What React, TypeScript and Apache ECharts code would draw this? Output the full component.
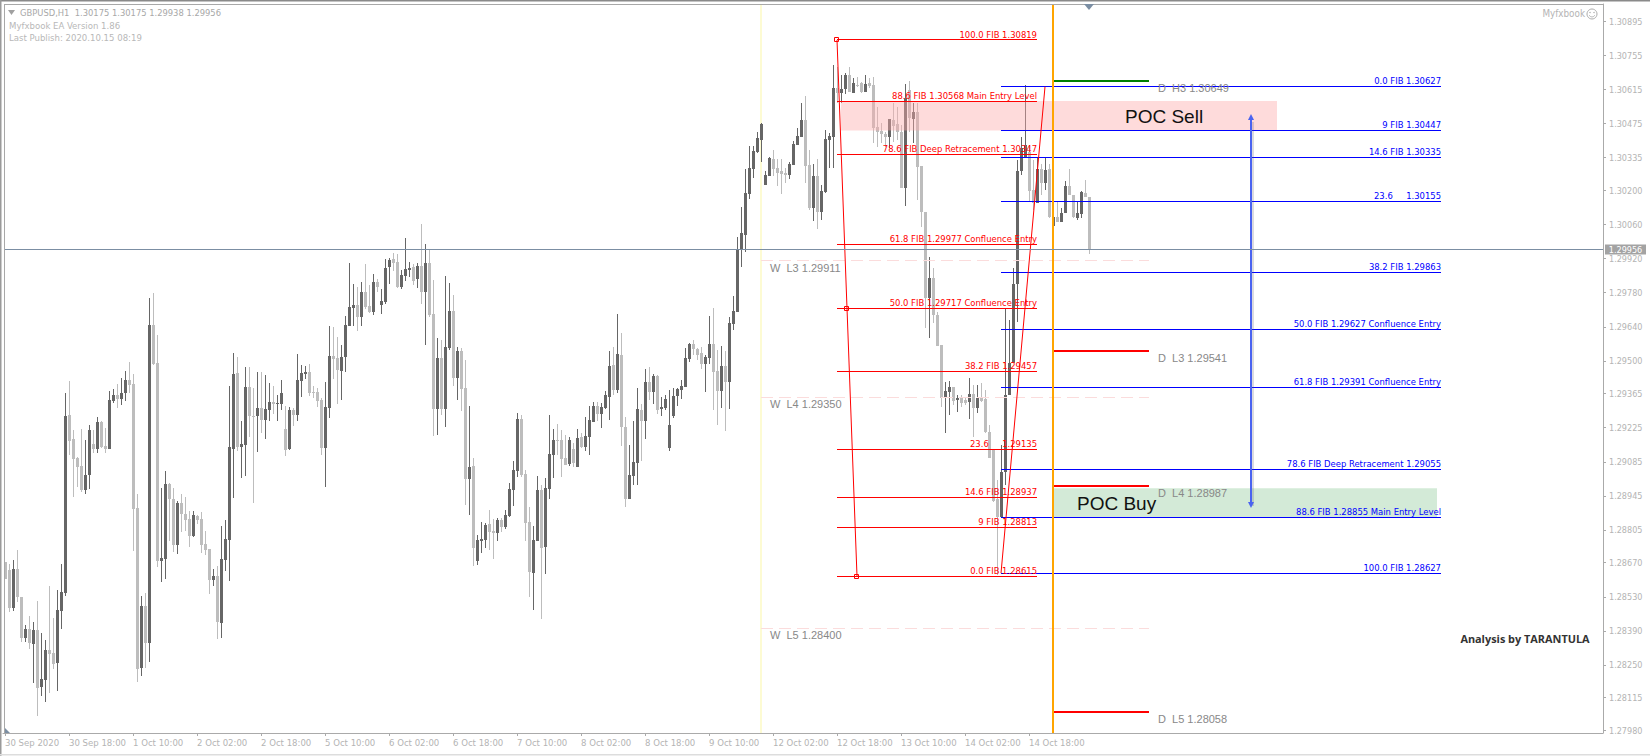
import React, { useEffect, useRef } from "react";
import * as echarts from "echarts";

// GBPUSD H1 candles in price points (1e-5): [open, close, low, high]
const candlePoints: number[][] = [
[128673,128603,128603,128673],[128640,128484,128468,128665],[128484,128644,128472,128681],[128644,128529,128509,128723],
[128529,128361,128345,128529],[128361,128398,128345,128414],[128398,128341,128316,128451],[128337,128394,128176,128427],
[128394,128155,128040,128513],[128159,128192,128122,128382],[128188,128312,128098,128353],[128312,128296,128135,128574],
[128300,128254,128233,128443],[128258,128476,128143,128558],[128472,128550,128398,128665],[128546,129273,128533,129368],
[129277,129171,129113,129417],[129179,129096,128940,129216],[129100,129063,128981,129104],[129067,128969,128961,129220],
[128969,129030,128953,129175],[129030,129216,128973,129236],[129159,129138,129122,129216],[129138,129249,129122,129269],
[129249,129146,129142,129253],[129150,129138,129122,129224],[129138,129339,129138,129376],[129335,129360,129327,129384],
[129360,129343,129306,129405],[129343,129368,129318,129429],[129368,129421,129335,129458],[129421,129401,129368,129495],
[129405,128891,128719,129446],[128895,128233,128180,128953],[128237,128492,128204,128533],[128492,128341,128237,128546],
[128341,129647,128262,129758],[129647,129487,129483,129779],[129491,128677,128652,129606],[128677,128689,128591,128977],
[128685,128994,128603,129047],[128994,128932,128760,128998],[128932,128744,128715,128977],[128744,128916,128707,128924],
[128916,128871,128797,128953],[128871,128846,128801,128940],[128850,128780,128735,128883],[128780,128866,128776,128883],
[128862,128846,128829,128866],[128850,128744,128711,128879],[128748,128723,128702,128801],[128727,128599,128542,128727],
[128599,128616,128574,128644],[128616,128427,128357,128656],[128423,128685,128361,128821],[128681,128768,128636,128846],
[128764,129146,128595,129397],[129138,129446,128936,129533],[129450,129146,129130,129516],[129146,129159,129018,129253],
[129155,129392,129026,129475],[129392,129273,129187,129475],[129273,129269,128916,129388],[129273,129306,129126,129454],
[129306,129257,129204,129454],[129257,129302,129179,129442],[129298,129331,129253,129409],[129331,129323,129281,129397],
[129323,129327,129253,129360],[129323,129368,129298,129421],[129220,129134,129109,129314],[129138,129298,129134,129310],
[129298,129277,129232,129306],[129277,129421,129253,129528],[129417,129450,129351,129483],[129446,129454,129425,129479],
[129454,129368,129355,129487],[129372,129368,129347,129397],[129372,129335,129310,129388],[129339,129142,129113,129347],
[129142,129310,128981,129413],[129306,129520,129265,129643],[129520,129507,129425,129639],[129512,129462,129323,129598],
[129458,129516,129339,129565],[129516,129647,129454,129684],[129643,129721,129643,129902],[129717,129729,129643,129816],
[129729,129680,129623,129803],[129680,129783,129643,129824],[129783,129721,129713,129898],[129725,129701,129697,129812],
[129701,129824,129689,129857],[129824,129803,129783,129836],[129729,129746,129693,129795],[129742,129881,129734,129918],
[129885,129914,129816,129922],[129918,129902,129869,129943],[129906,129803,129799,129939],[129803,129853,129795,129873],
[129849,129877,129828,130005],[129873,129881,129845,129906],[129885,129828,129812,129898],[129836,129890,129799,129902],
[129890,129783,129734,130062],[129783,129902,129565,129980],[129902,129689,129680,129955],[129693,129302,129191,129832],
[129302,129512,129195,129594],[129512,129302,129277,129586],[129302,129557,129228,129849],[129553,129705,129545,129820],
[129705,129429,129397,129771],[129429,129541,129339,129557],[129541,129384,129294,129553],[129388,129014,128907,129503],
[129014,129063,128866,129314],[129067,128731,128656,129100],[128677,128764,128661,128784],[128760,128768,128711,128838],
[128764,128825,128731,128834],[128829,128797,128723,128887],[128801,128793,128685,128850],[128793,128846,128760,128854],
[128846,128817,128797,128854],[128817,128866,128809,128887],[128862,128973,128858,128998],[128969,129051,128903,129088],
[129047,129261,129022,129285],[129261,129030,129022,129277],[129034,128834,128760,129051],[128838,128632,128529,128899],
[128628,128764,128476,128821],[128760,128969,128760,129026],[128969,128731,128439,128990],[128735,128977,128624,129018],
[128973,129117,128932,129277],[129113,129175,129018,129220],[129175,129171,129113,129240],[129175,129096,129022,129216],
[129100,129071,129071,129195],[129075,129175,129067,129187],[129138,129079,129063,129163],[129063,129183,129063,129220],
[129187,129146,129142,129204],[129146,129191,129130,129269],[129187,129257,129113,129314],[129249,129314,129249,129331],
[129314,129281,129253,129331],[129281,129310,129224,129327],[129306,129360,129302,129376],[129351,129479,129257,129541],
[129483,129380,129360,129557],[129380,129528,129368,129693],[129524,129228,129150,129614],[129228,128932,128899,129269],
[128932,129030,128932,129155],[129026,129084,128990,129253],[129079,129302,128990,129388],[129298,129253,129088,129323],
[129253,129413,129179,129466],[129413,129372,129339,129475],[129372,129438,129323,129446],[129438,129298,129281,129442],
[129302,129310,129273,129351],[129306,129343,129298,129360],[129142,129236,129130,129380],[129273,129355,129265,129388],
[129355,129384,129314,129388],[129380,129397,129343,129421],[129392,129512,129392,129553],[129507,129569,129495,129573],
[129569,129549,129524,129586],[129549,129524,129503,129553],[129533,129487,129466,129557],[129487,129516,129372,129524],
[129512,129569,129487,129684],[129569,129454,129298,129717],[129458,129376,129236,129545],[129376,129479,129306,129561],
[129479,129413,129212,129541],[129413,129656,129302,129680],[129652,129705,129627,129766],[129701,129960,129701,130009],
[129955,130025,129885,130132],[130017,130190,129947,130288],[130186,130292,130165,130383],[130288,130363,130251,130383],
[130358,130416,130354,130441],[130408,130473,130317,130477],[130223,130264,130223,130280],[130260,130334,130260,130338],
[130329,130288,130260,130367],[130292,130272,130219,130329],[130280,130268,130186,130329],[130272,130264,130231,130292],
[130264,130309,130247,130317],[130305,130391,130305,130404],[130387,130424,130387,130457],[130420,130490,130420,130560],
[130490,130301,130231,130588],[130305,130128,130120,130367],[130128,130260,130075,130309],[130260,130112,130042,130329],
[130112,130198,130079,130223],[130194,130412,130190,130449],[130408,130424,130292,130436],[130420,130621,130292,130716],
[130621,130601,130560,130707],[130601,130617,130560,130675],[130617,130675,130597,130683],[130675,130605,130605,130707],
[130601,130642,130601,130662],[130634,130630,130625,130666],[130642,130605,130601,130646],[130605,130638,130605,130675],
[130642,130630,130621,130662],[130634,130457,130395,130666],[130461,130441,130379,130543],[130445,130432,130395,130477],
[130432,130420,130379,130441],[130420,130494,130375,130494],[130490,130465,130399,130560],[130473,130441,130408,130543],
[130441,130210,130210,130469],[130210,130580,130136,130638],[130613,130498,130441,130650],[130494,130523,130395,130560],
[130523,130297,130161,130560],[130301,130112,130050,130301],[130112,129758,129635,130112],[129758,129840,129594,129927],
[129840,129689,129656,129881],[129689,129561,129561,129701],[129565,129347,129310,129565],[129347,129376,129204,129413],
[129372,129392,129277,129417],[129392,129335,129318,129392],[129339,129347,129290,129360],[129347,129327,129310,129360],
[129339,129327,129318,129351],[129331,129364,129261,129429],[129364,129306,129187,129401],[129306,129347,129285,129401],
[129347,129335,129331,129409],[129343,129208,129204,129380],[129208,129100,129100,129236],[129134,128924,128920,129134],
[128932,128858,128620,129010],[128858,129043,128854,129155],[129043,129360,128990,129717],[129360,129491,129360,129668],
[129491,129816,129491,129881],[129816,130280,129660,130325],[130280,130375,130264,130420],[130338,130387,130338,130634],
[130358,130198,130153,130387],[130202,130149,130120,130325],[130149,130288,130149,130338],[130288,130231,130182,130309],
[130231,130284,130202,130338],[130288,130091,130087,130309],[130054,130091,130050,130194],[130091,130071,130071,130153],
[130071,130108,130071,130128],[130108,130219,130108,130239],[130219,130182,130182,130288],[130182,130091,130087,130182],
[130087,130108,130079,130153],[130104,130194,130087,130198],[130190,130173,130173,130243],[130175,129956,129938,130175],
];

const timeLabels = ["30 Sep 2020","30 Sep 18:00","1 Oct 10:00","2 Oct 02:00","2 Oct 18:00","5 Oct 10:00","6 Oct 02:00","6 Oct 18:00","7 Oct 10:00","8 Oct 02:00","8 Oct 18:00","9 Oct 10:00","12 Oct 02:00","12 Oct 18:00","13 Oct 10:00","14 Oct 02:00","14 Oct 18:00"];
const priceTicks = [1.30895,1.30755,1.30615,1.30475,1.30335,1.302,1.3006,1.2992,1.2978,1.2964,1.295,1.29365,1.29225,1.29085,1.28945,1.28805,1.2867,1.2853,1.2839,1.2825,1.28115,1.2798];
const currentPrice = 1.29956;

const redFib: [number, string][] = [
  [1.30819,"100.0 FIB 1.30819"],[1.30568,"88.6 FIB 1.30568 Main Entry Level"],[1.30347,"78.6 FIB Deep Retracement 1.30347"],
  [1.29977,"61.8 FIB 1.29977 Confluence Entry"],[1.29717,"50.0 FIB 1.29717 Confluence Entry"],[1.29457,"38.2 FIB 1.29457"],
  [1.29135,"23.6     1.29135"],[1.28937,"14.6 FIB 1.28937"],[1.28813,"9 FIB 1.28813"],[1.28615,"0.0 FIB 1.28615"],
];
const blueFib: [number, string][] = [
  [1.30627,"0.0 FIB 1.30627"],[1.30447,"9 FIB 1.30447"],[1.30335,"14.6 FIB 1.30335"],[1.30155,"23.6     1.30155"],
  [1.29863,"38.2 FIB 1.29863"],[1.29627,"50.0 FIB 1.29627 Confluence Entry"],[1.29391,"61.8 FIB 1.29391 Confluence Entry"],
  [1.29055,"78.6 FIB Deep Retracement 1.29055"],[1.28855,"88.6 FIB 1.28855 Main Entry Level"],[1.28627,"100.0 FIB 1.28627"],
];
const dailyGreen: [number, string][] = [[1.30649,"D  H3 1.30649"]];
const dailyRed: [number, string][] = [[1.29541,"D  L3 1.29541"],[1.28987,"D  L4 1.28987"],[1.28058,"D  L5 1.28058"]];
const weekly: [number, string][] = [[1.29911,"W  L3 1.29911"],[1.2935,"W  L4 1.29350"],[1.284,"W  L5 1.28400"]];

const pocSell = { name: "POC Sell", from: 209, to: 318, low: 1.30447, high: 1.30568, textAt: 280 };
const pocBuy = { name: "POC Buy", from: 262, to: 358, low: 1.28855, high: 1.28976, textAt: 268 };

const BAR_COUNT = 400;
const redSpan = [208, 258];
const blueSpan = [249, 359];
const dailySpan = [262, 286];
const weeklySpan = [189, 286];
const weekOpenBar = 189;
const dayOpenBar = 262;
const arrow = { at: 311.5, top: 1.30515, bottom: 1.28895 };
const swingDown = [[208, 1.30819], [213, 1.28615]];
const swingUp = [[249, 1.28627], [260, 1.30627]];
const swingAnchors = [[208, 1.30819], [210.5, 1.29717], [213, 1.28615]];

const SANS = '"Liberation Sans", Arial, sans-serif';
const MT4 = '"DejaVu Sans Condensed", "Liberation Sans", sans-serif';
const GREY = "#b4b4b4";
const BULL = "#666666";
const BEAR = "#bdbdbd";

const categories = Array.from({ length: BAR_COUNT }, (_, i) => (i % 16 === 0 && timeLabels[i / 16]) || "");

const crisp = (v: number, w: number) => (w % 2 === 1 ? Math.round(v - 0.5) + 0.5 : Math.round(v));

function xAt(api: any, f: number) {
  const base = Math.floor(f);
  return api.coord([base, 0])[0] + (f - base) * api.size([1, 0])[0];
}

function levels(rows: [number, string][], span: number[], color: string, width: number, z: number, dash?: number[]) {
  return {
    type: "custom", z, silent: true, data: rows.map((r) => [span[0], r[0]]), encode: { x: 0, y: 1 },
    renderItem: (_: any, api: any) => {
      const a = api.coord([span[0], api.value(1)]);
      const b = api.coord([span[1], api.value(1)]);
      const y = crisp(a[1], width);
      return { type: "line", shape: { x1: a[0], y1: y, x2: b[0], y2: y }, style: { stroke: color, lineWidth: width, lineDash: dash } };
    },
  };
}

function levelTexts(rows: [number, string][], at: number, color: string, font: string, align: string, dy: number, dx = 0) {
  return {
    type: "custom", z: 9, silent: true, data: rows.map((r) => [at, r[0]]), encode: { x: 0, y: 1 },
    renderItem: (p: any, api: any) => {
      const c = api.coord([at, api.value(1)]);
      return { type: "text", x: c[0] + dx, y: c[1] + dy, style: { text: rows[p.dataIndex][1], fill: color, font, align, verticalAlign: "middle" } };
    },
  };
}

function vertical(bar: number, color: string, width: number, z: number) {
  return {
    type: "custom", z, silent: true, data: [[bar, currentPrice]], encode: { x: 0, y: 1 },
    renderItem: (p: any, api: any) => {
      const x = api.coord([bar, 0])[0];
      return { type: "line", shape: { x1: x, y1: p.coordSys.y, x2: x, y2: p.coordSys.y + p.coordSys.height }, style: { stroke: color, lineWidth: width } };
    },
  };
}

function zone(z0: typeof pocSell, fill: string) {
  return {
    type: "custom", z: 3, silent: true, data: [[z0.from, z0.high]], encode: { x: 0, y: 1 },
    renderItem: (_: any, api: any) => {
      const a = api.coord([z0.from, z0.high]);
      const b = api.coord([z0.to, z0.low]);
      return { type: "rect", shape: { x: a[0], y: a[1], width: b[0] - a[0], height: b[1] - a[1] }, style: { fill } };
    },
  };
}

function swing(points: number[][]) {
  return {
    type: "custom", z: 5, silent: true, data: [points[0]], encode: { x: 0, y: 1 },
    renderItem: (_: any, api: any) => {
      const a = api.coord(points[0]);
      const b = api.coord(points[1]);
      return { type: "line", shape: { x1: a[0], y1: a[1], x2: b[0], y2: b[1] }, style: { stroke: "#ff0000", lineWidth: 1 } };
    },
  };
}

function candles() {
  return {
    type: "custom", z: 2, silent: true,
    data: candlePoints.map((r, i) => [i, r[0] / 1e5, r[1] / 1e5, r[2] / 1e5, r[3] / 1e5]),
    encode: { x: 0, y: [1, 2, 3, 4] },
    renderItem: (_: any, api: any) => {
      const i = api.value(0);
      const open = api.value(1);
      const close = api.value(2);
      const c = api.coord([i, open])[0];
      const yO = Math.round(api.coord([i, open])[1]);
      const yC = Math.round(api.coord([i, close])[1]);
      const yL = Math.round(api.coord([i, api.value(3)])[1]);
      const yH = Math.round(api.coord([i, api.value(4)])[1]);
      const color = close >= open ? BULL : BEAR;
      const top = Math.min(yO, yC);
      return {
        type: "group",
        children: [
          { type: "line", shape: { x1: c + 0.5, y1: yH, x2: c + 0.5, y2: Math.max(yL, yH + 1) }, style: { stroke: color, lineWidth: 1 } },
          { type: "rect", shape: { x: c - 1, y: top, width: 3, height: Math.max(Math.abs(yO - yC), 1) }, style: { fill: color } },
        ],
      };
    },
  };
}

function buildOption() {
  return {
    animation: false,
    backgroundColor: "#ffffff",
    grid: { left: 3, top: 4, width: 1600, height: 729, containLabel: false },
    xAxis: {
      type: "category", data: categories, boundaryGap: true,
      axisLine: { lineStyle: { color: "#aaaaaa" } },
      axisTick: { show: true, alignWithLabel: true, length: 3, lineStyle: { color: "#aaaaaa" }, interval: (i: number) => i % 16 === 0 && i <= 256 },
      axisLabel: { interval: (i: number) => i % 16 === 0 && i <= 256, align: "left", margin: 4, color: GREY, fontFamily: MT4, fontSize: 9.5 },
      splitLine: { show: false },
    },
    yAxis: {
      type: "value", position: "right", min: 1.2797, max: 1.30967, scale: true,
      axisLine: { show: true, lineStyle: { color: "#aaaaaa" } },
      axisTick: { show: true, length: 3, lineStyle: { color: "#aaaaaa" }, customValues: priceTicks },
      axisLabel: { customValues: priceTicks, formatter: (v: number) => v.toFixed(5), margin: 6, color: GREY, fontFamily: MT4, fontSize: 9 },
      splitLine: { show: false },
    },
    series: [
      vertical(weekOpenBar, "#fdfbd3", 2, 1),
      candles(),
      zone(pocSell, "rgba(253,170,170,0.42)"),
      zone(pocBuy, "rgba(130,195,140,0.35)"),
      levels(weekly, weeklySpan, "#fbdcdc", 1, 4, [12, 6]),
      levels(redFib, redSpan, "#ff0000", 1, 5),
      levels(blueFib, blueSpan, "#0000ff", 1, 5),
      levels(dailyGreen, dailySpan, "#008000", 2, 6),
      levels(dailyRed, dailySpan, "#ff0000", 2, 6),
      swing(swingDown),
      swing(swingUp),
      {
        type: "custom", z: 6, silent: true, data: swingAnchors, encode: { x: 0, y: 1 },
        renderItem: (p: any, api: any) => {
          const x = xAt(api, swingAnchors[p.dataIndex][0]);
          const y = api.coord([0, swingAnchors[p.dataIndex][1]])[1];
          return { type: "rect", shape: { x: Math.round(x) - 2.5, y: crisp(y, 1) - 2, width: 4, height: 4 }, style: { fill: "none", stroke: "#ff0000", lineWidth: 1 } };
        },
      },
      vertical(dayOpenBar, "#ffa500", 2, 7),
      {
        type: "custom", z: 8, silent: true, data: [[311, arrow.top]], encode: { x: 0, y: 1 },
        renderItem: (_: any, api: any) => {
          const x = Math.round(xAt(api, arrow.at));
          const t = api.coord([0, arrow.top])[1];
          const b = api.coord([0, arrow.bottom])[1];
          const fill = "#4a63f0";
          return {
            type: "group",
            children: [
              { type: "line", shape: { x1: x + 2, y1: t + 8, x2: x + 2, y2: b - 2 }, style: { stroke: "rgba(90,90,110,0.22)", lineWidth: 2 } },
              { type: "line", shape: { x1: x, y1: t + 4, x2: x, y2: b - 4 }, style: { stroke: fill, lineWidth: 2 } },
              { type: "polygon", shape: { points: [[x, t], [x - 3, t + 6], [x + 3, t + 6]] }, style: { fill } },
              { type: "polygon", shape: { points: [[x, b], [x - 3, b - 6], [x + 3, b - 6]] }, style: { fill } },
            ],
          };
        },
      },
      levelTexts(redFib, redSpan[1], "#ff0000", `9.4px ${MT4}`, "right", -6),
      levelTexts(blueFib, blueSpan[1], "#0000ff", `9.4px ${MT4}`, "right", -6),
      levelTexts([...dailyGreen, ...dailyRed], dailySpan[1], "#888888", `11px ${SANS}`, "left", 7, 9),
      levelTexts(weekly, weeklySpan[0], "#888888", `11px ${SANS}`, "left", 7, 9),
      levelTexts([[pocSell.low, pocSell.name]], pocSell.textAt, "#111111", `19px ${SANS}`, "left", -14, 0),
      levelTexts([[pocBuy.low, pocBuy.name]], pocBuy.textAt, "#111111", `19px ${SANS}`, "left", -14, 0),
      {
        type: "custom", z: 10, silent: true, data: [[0, currentPrice]], encode: { x: 0, y: 1 },
        renderItem: (p: any, api: any) => {
          const y = crisp(api.coord([0, currentPrice])[1], 1);
          const cs = p.coordSys;
          const right = cs.x + cs.width;
          return {
            type: "group",
            children: [
              { type: "line", shape: { x1: cs.x + 1, y1: y, x2: right, y2: y }, style: { stroke: "#7b8ea3", lineWidth: 1 } },
              { type: "rect", shape: { x: right + 2, y: y - 5, width: 41, height: 10 }, style: { fill: "#a3a3a3" } },
              { type: "text", x: right + 22.5, y, style: { text: currentPrice.toFixed(5), fill: "#ffffff", font: `9px ${MT4}`, align: "center", verticalAlign: "middle" } },
            ],
          };
        },
      },
    ],
    graphic: [
      { type: "rect", z: 20, silent: true, shape: { x: 0, y: 0, width: 1650, height: 1.5 }, style: { fill: "#8a8a8a" } },
      { type: "rect", z: 20, silent: true, shape: { x: 0, y: 0, width: 1.5, height: 756 }, style: { fill: "#9a9a9a" } },
      { type: "rect", z: 20, silent: true, shape: { x: 0, y: 754, width: 1650, height: 1.5 }, style: { fill: "#dddddd" } },
      { type: "line", z: 20, silent: true, shape: { x1: 4, y1: 4.5, x2: 1603, y2: 4.5 }, style: { stroke: "#a8a8a8", lineWidth: 1 } },
      { type: "line", z: 20, silent: true, shape: { x1: 4.5, y1: 4, x2: 4.5, y2: 733 }, style: { stroke: "#a8a8a8", lineWidth: 1 } },
      { type: "polygon", z: 20, silent: true, shape: { points: [[8, 10], [15, 10], [11.5, 15]] }, style: { fill: "#a0a0a0" } },
      { type: "polygon", z: 20, silent: true, shape: { points: [[5, 728], [5, 733], [10, 733]] }, style: { fill: "#7b8ea3" } },
      { type: "polygon", z: 20, silent: true, shape: { points: [[1084, 4], [1094, 4], [1089, 10]] }, style: { fill: "#7b8ea3" } },
      { type: "text", z: 20, silent: true, x: 20, y: 12.5, style: { text: "GBPUSD,H1  1.30175 1.30175 1.29938 1.29956", fill: "#a8a8a8", font: `9.3px ${MT4}`, verticalAlign: "middle" } },
      { type: "text", z: 20, silent: true, x: 9, y: 25.5, style: { text: "Myfxbook EA Version 1.86", fill: "#b8b8b8", font: `9.5px ${MT4}`, verticalAlign: "middle" } },
      { type: "text", z: 20, silent: true, x: 9, y: 37.5, style: { text: "Last Publish: 2020.10.15 08:19", fill: "#b8b8b8", font: `9.5px ${MT4}`, verticalAlign: "middle" } },
      { type: "text", z: 20, silent: true, x: 1585, y: 13.5, style: { text: "Myfxbook", fill: "#b4b4b4", font: `9.8px ${MT4}`, align: "right", verticalAlign: "middle" } },
      { type: "circle", z: 20, silent: true, shape: { cx: 1592, cy: 14, r: 5 }, style: { fill: "none", stroke: "#aaaaaa", lineWidth: 1 } },
      { type: "circle", z: 20, silent: true, shape: { cx: 1590, cy: 12.5, r: 0.7 }, style: { fill: "#aaaaaa" } },
      { type: "circle", z: 20, silent: true, shape: { cx: 1594, cy: 12.5, r: 0.7 }, style: { fill: "#aaaaaa" } },
      { type: "arc", z: 20, silent: true, shape: { cx: 1592, cy: 14, r: 3, startAngle: 0.4, endAngle: 2.74 }, style: { fill: "none", stroke: "#aaaaaa", lineWidth: 0.8 } },
      { type: "text", z: 20, silent: true, x: 1525, y: 638.5, style: { text: "Analysis by TARANTULA", fill: "#333333", font: `bold 10.9px "Open Sans", sans-serif`, align: "center", verticalAlign: "middle" } },
    ],
  };
}

export default function App() {
  const ref = useRef<HTMLDivElement>(null);
  useEffect(() => {
    const chart = echarts.init(ref.current!, undefined, { renderer: "svg" });
    chart.setOption(buildOption() as any);
    return () => chart.dispose();
  }, []);
  return <div ref={ref} style={{ position: "fixed", left: 0, top: 0, width: 1650, height: 756, background: "#fff" }} />;
}
